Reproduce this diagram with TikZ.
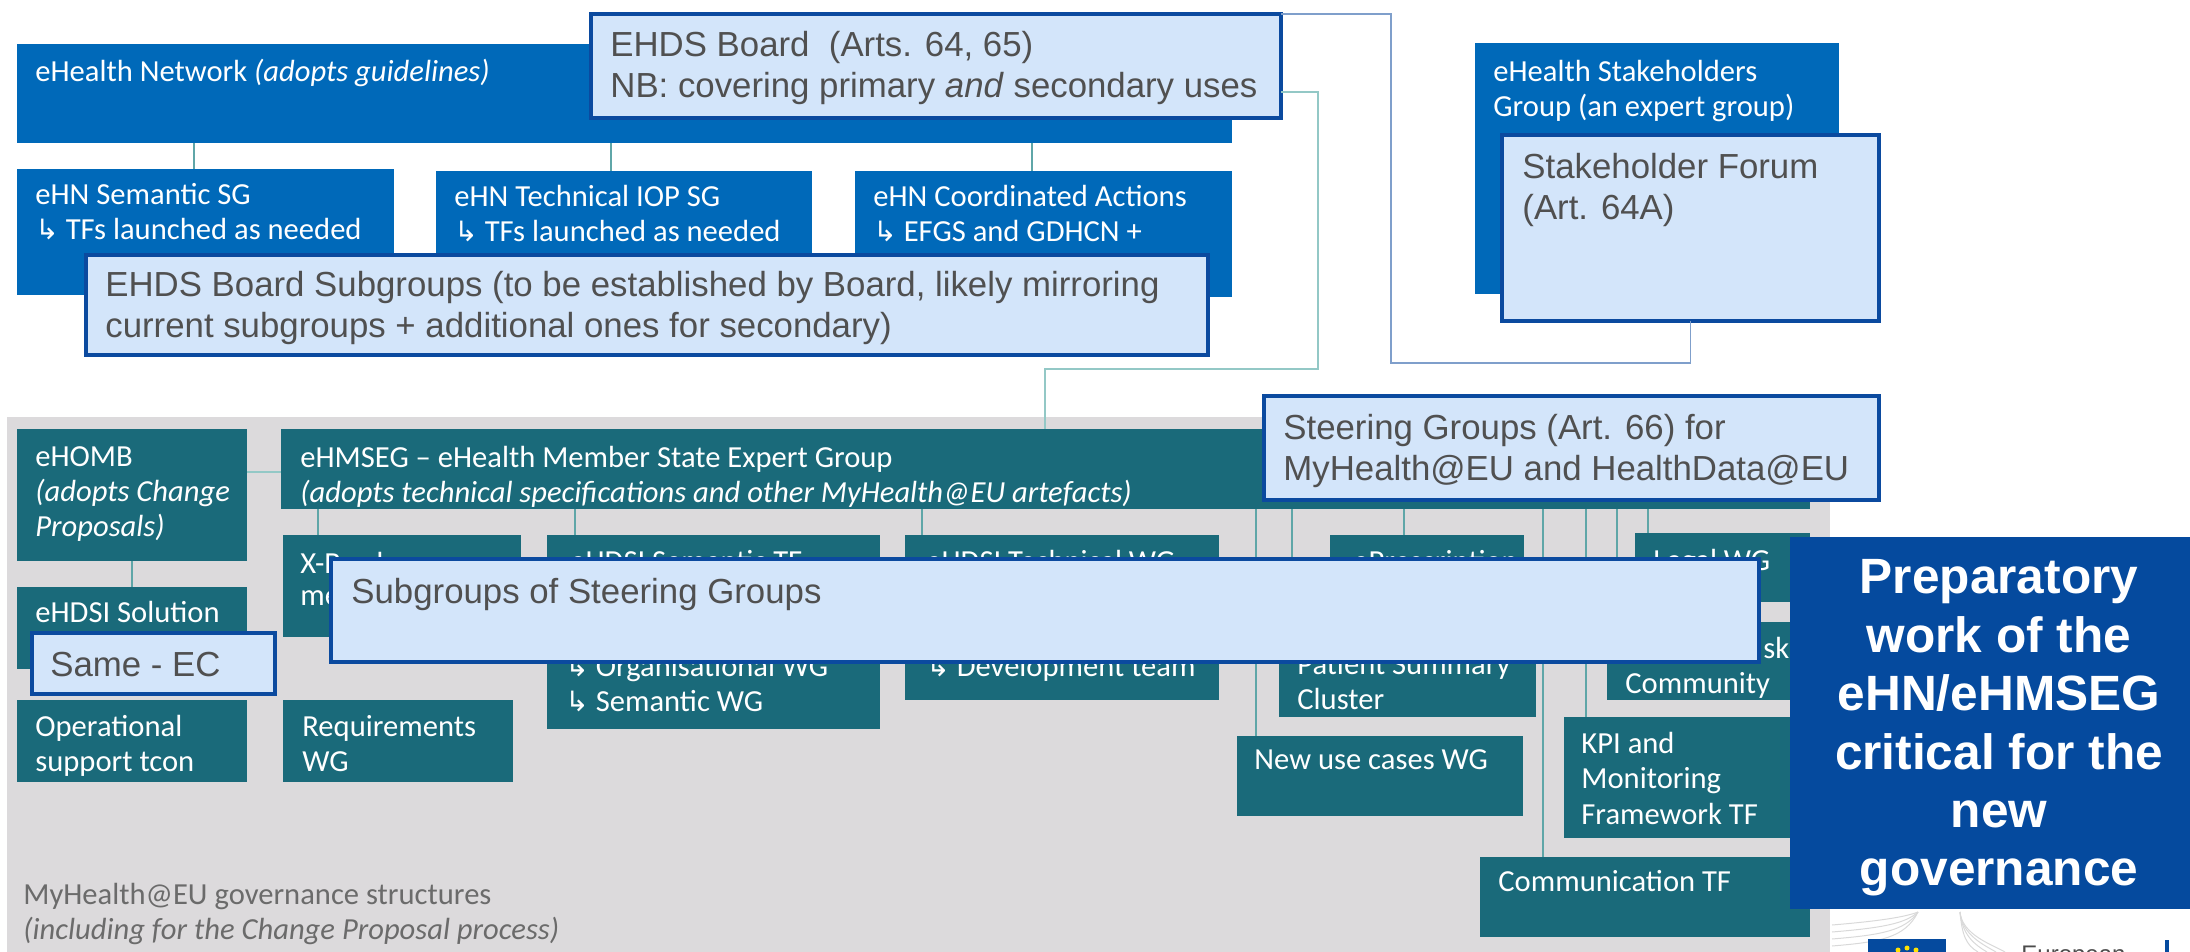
\documentclass[tikz,border=0pt]{standalone}
\usepackage{fontspec}
\setmainfont{Carlito}
\newfontfamily\overlayfont{Liberation Sans}
\newfontfamily\arrowfont{DejaVu Sans}
\newcommand{\subarrow}{{\arrowfont\fontsize{14}{14}\selectfont ↳}\ }

\definecolor{ehnblue}{HTML}{0069B9}
\definecolor{ehmteal}{HTML}{1A6A7A}
\definecolor{greyback}{HTML}{DCDADC}
\definecolor{newfill}{HTML}{D3E5FA}
\definecolor{newedge}{HTML}{0B4A9F}
\definecolor{newtext}{HTML}{505050}
\definecolor{prepblue}{HTML}{054A9E}
\definecolor{tealline}{HTML}{5FA6A8}
\definecolor{paleteal}{HTML}{93C8C6}
\definecolor{paleblue}{HTML}{7F9FCB}

\tikzset{
  boxsize/.style n args={2}{minimum width=#1*0.5pt, minimum height=#2*0.5pt},
  basebox/.style={rectangle, anchor=north west, inner sep=0, outer sep=0},
  bluebox/.style={basebox, fill=ehnblue},
  tealbox/.style={basebox, fill=ehmteal},
  newbox/.style={basebox, fill=newfill, draw=newedge, line width=1.6pt},
  boxtext/.style={anchor=north west, inner sep=0, align=left, text=white, font=\fontsize{15.3}{17.6}\selectfont},
  newtxt/.style={anchor=north west, inner sep=0, align=left, text=newtext, font=\overlayfont\fontsize{17.4}{20.6}\selectfont},
  tealink/.style={draw=tealline, line width=0.8pt},
}

\begin{document}
\begin{tikzpicture}[x=0.5pt, y=-0.5pt]
\useasboundingbox (0, 0) rectangle (2190, 952);
\clip (0, 0) rectangle (2190, 952);

% grey area
\fill [greyback] (7, 417) rectangle (1830, 952);

% eHealth network
\node (ehn) [bluebox, boxsize={1215}{99}] at (17, 44) {};
\node (semsg) [bluebox, boxsize={377}{126}] at (17, 169) {};
\node (techsg) [bluebox, boxsize={376}{124}] at (436, 171) {};
\node (coordact) [bluebox, boxsize={377}{126}] at (855, 171) {};
\node (stakeholders) [bluebox, boxsize={364}{251}] at (1475, 43) {};

\node (ehnt) [boxtext] at (35, 59) {eHealth Network \textit{(adopts guidelines)}};
\node (semsgt) [boxtext] at (35, 183) {eHN Semantic SG\\\subarrow TFs launched as needed};
\node (techsgt) [boxtext] at (454, 185) {eHN Technical IOP SG\\\subarrow TFs launched as needed};
\node (coordactt) [boxtext] at (873, 185) {eHN Coordinated Actions\\\subarrow EFGS and GDHCN +};
\node (stakeholderst) [boxtext] at (1493, 60) {eHealth Stakeholders\\Group (an expert group)};

% member state side
\node (ehomb) [tealbox, boxsize={230}{132}] at (17, 429) {};
\node (ehmseg) [tealbox, boxsize={1529}{80}] at (281, 429) {};
\node (solution) [tealbox, boxsize={230}{82}] at (17, 587) {};
\node (support) [tealbox, boxsize={230}{82}] at (17, 700) {};
\node (xborder) [tealbox, boxsize={238}{102}] at (283, 535) {};
\node (reqwg) [tealbox, boxsize={230}{82}] at (283, 700) {};
\node (semtf) [tealbox, boxsize={333}{194}] at (547, 535) {};
\node (techwg) [tealbox, boxsize={314}{165}] at (905, 535) {};
\node (prescr) [tealbox, boxsize={194}{105}] at (1330, 535) {};
\node (patient) [tealbox, boxsize={257}{77}] at (1279, 640) {};
\node (usecases) [tealbox, boxsize={286}{80}] at (1237, 736) {};
\node (legal) [tealbox, boxsize={175}{69}] at (1635, 533) {};
\node (community) [tealbox, boxsize={203}{78}] at (1607, 622) {};
\node (kpi) [tealbox, boxsize={246}{121}] at (1564, 717) {};
\node (commtf) [tealbox, boxsize={330}{80}] at (1480, 857) {};

\node (ehombt) [boxtext] at (35, 446) {eHOMB\\\textit{(adopts Change}\\\textit{Proposals)}};
\node (ehmsegt) [boxtext] at (300, 446) {eHMSEG -- eHealth Member State Expert Group\\\textit{(adopts technical specifications and other MyHealth@EU artefacts)}};
\node (solutiont) [boxtext] at (35, 601) {eHDSI Solution};
\node (supportt) [boxtext] at (35, 715) {Operational\\support tcon};
\node (xbordert) [boxtext] at (300, 552) {X-Border};
\node (xbordermt) [boxtext] at (300, 590) {me};
\node (reqwgt) [boxtext] at (302, 715) {Requirements\\WG};
\node (semtft) [boxtext] at (570, 550) {eHDSI Semantic TF};
\node (semtfwg) [boxtext] at (565, 655) {\subarrow Organisational WG\\\subarrow Semantic WG};
\node (techwgt) [boxtext] at (926, 550) {eHDSI Technical WG};
\node (techwgd) [boxtext] at (926, 655) {\subarrow Development team};
\node (prescrt) [boxtext] at (1353, 550) {ePrescription};
\node (patientt) [boxtext] at (1297, 653) {Patient Summary\\Cluster};
\node (usecasest) [boxtext] at (1254, 749) {New use cases WG};
\node (legalt) [boxtext] at (1653, 549) {Legal WG};
\node (communityst) [boxtext] at (1763, 637) {sk};
\node (communityt) [boxtext] at (1625, 672) {Community};
\node (kpit) [boxtext] at (1581, 732) {KPI and\\Monitoring\\Framework TF};
\node (commtft) [boxtext] at (1498, 870) {Communication TF};
\node (caption) [boxtext, text=black!58] at (23, 883) {MyHealth@EU governance structures\\\textit{(including for the Change Proposal process)}};

% links inside the two blocks
\foreach \xpos/\child/\parent in {194/semsg/ehn, 611/techsg/ehn, 1032/coordact/ehn,
    318/xborder/ehmseg, 575/semtf/ehmseg, 922/techwg/ehmseg, 1256/usecases/ehmseg,
    1292/patient/ehmseg, 1404/prescr/ehmseg, 1543/commtf/ehmseg, 1586/kpi/ehmseg,
    1617/community/ehmseg, 1648/legal/ehmseg} {
  \coordinate (drop) at (\xpos, 0);
  \draw [tealink] (\parent.south -| drop) -- (\child.north -| drop);
}
\draw [tealink] (ehomb.south) -- (solution.north);
\coordinate (sidelink) at (0, 472);
\draw [draw=paleteal, line width=0.8pt] (ehomb.east |- sidelink) -- (ehmseg.west |- sidelink);

% new boxes on top
\node (board) [newbox, boxsize={690}{104}] at (591, 14) {};
\node (boardsub) [newbox, boxsize={1122}{100}] at (86, 255) {};
\node (forum) [newbox, boxsize={377}{186}] at (1502, 135) {};
\node (steering) [newbox, boxsize={615}{104}] at (1264, 396) {};
\node (steersub) [newbox, boxsize={1428}{103}] at (331, 559) {};
\node (sameec) [newbox, boxsize={243}{61}] at (32, 633) {};

\node (boardt) [newtxt] at (610, 31) {EHDS Board\ \ (Arts. 64, 65)\\NB: covering primary \textit{and} secondary uses};
\node (boardsubt) [newtxt] at (105, 271) {EHDS Board Subgroups (to be established by Board, likely mirroring\\current subgroups + additional ones for secondary)};
\node (forumt) [newtxt] at (1522, 153) {Stakeholder Forum\\(Art. 64A)};
\node (steeringt) [newtxt] at (1283, 414) {Steering Groups (Art. 66) for\\MyHealth@EU and HealthData@EU};
\node (steersubt) [newtxt] at (351, 578) {Subgroups of Steering Groups};
\node (sameect) [newtxt] at (50, 652) {Same - EC};

% links of the new boxes
\coordinate (bendblue) at (1391, 363);
\draw [draw=paleblue, line width=0.8pt] (board.north east) -| (bendblue) -- (bendblue -| forum.south) -- (forum.south);
\coordinate (boardexit) at (0, 92);
\coordinate (bendteal) at (1318, 369);
\coordinate (tealdrop) at (1045, 0);
\draw [draw=paleteal, line width=0.8pt] (board.east |- boardexit) -| (bendteal) -- (bendteal -| tealdrop) -- (ehmseg.north -| tealdrop);

% side panel
\node (prep) [basebox, fill=prepblue, boxsize={400}{372}] at (1790, 537) {};
\node (prept) [anchor=center, inner sep=0, align=center, text=white, font=\overlayfont\bfseries\fontsize{24.8}{29.2}\selectfont] at (1999, 728) {Preparatory\\work of the\\eHN/eHMSEG\\critical for the\\new\\governance};

% logo corner
\foreach \yend in {925, 932, 939, 946} {
  \draw [black!15, line width=0.5pt] (1832, \yend) .. controls (1880, \yend-4) and (1905, \yend-8) .. (1918, 912);
}
\foreach \xend in {1966, 1975, 1984, 1993} {
  \draw [black!15, line width=0.5pt] (1960, 912) .. controls (1962, 935) and (\xend, 945) .. (\xend+12, 952);
}
\fill [prepblue] (1868, 939) rectangle (1946, 952);
\foreach \xstar/\ystar in {1898/950, 1907/948, 1916/950} {
  \fill [yellow!85!orange] (\xstar, \ystar) circle (2.5);
}
\node (eclogo) [anchor=north west, inner sep=0, text=black!70, font=\overlayfont\fontsize{12}{14}\selectfont] at (2021, 946) {European};
\fill [prepblue] (2165, 940) rectangle (2169, 952);
\end{tikzpicture}
\end{document}
